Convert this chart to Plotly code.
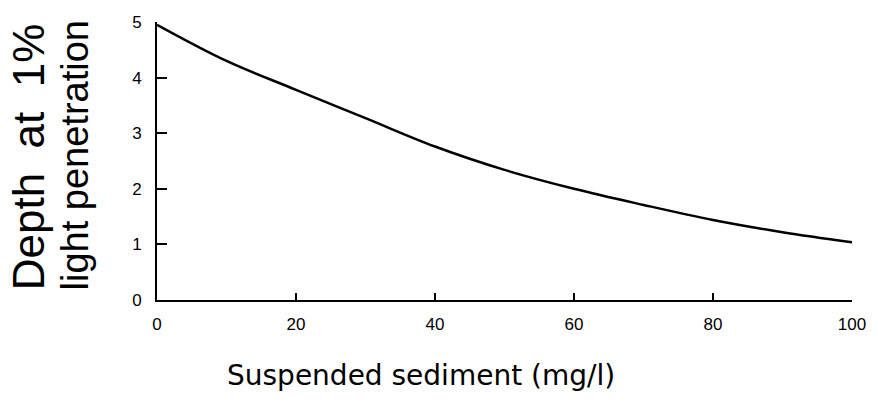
import plotly.graph_objects as go

# Data
sediment = [0, 10, 20, 30, 40, 50, 60, 70, 80, 90, 100]
depth = [4.95, 4.30, 3.78, 3.27, 2.76, 2.34, 2.00, 1.71, 1.44, 1.22, 1.04]

x_ticks = [0, 20, 40, 60, 80, 100]
y_ticks = [0, 1, 2, 3, 4, 5]

x_title = "Suspended sediment (mg/l)"
y_title_1 = "Depth\u00a0\u00a0at\u00a0\u00a01%"
y_title_2 = "light penetration"

fig = go.Figure()
fig.add_trace(go.Scatter(
    x=sediment, y=depth, mode="lines",
    line=dict(color="black", width=2.5, shape="spline"),
    hoverinfo="skip", showlegend=False,
))

axis_common = dict(
    showgrid=False, zeroline=False, showline=True, linecolor="black", linewidth=2,
    ticks="inside", tickcolor="black", tickwidth=2,
    tickfont=dict(family="Liberation Sans, Arial, sans-serif", size=17, color="black"),
)

fig.update_xaxes(range=[0, 100], tickvals=x_ticks, ticklen=7, ticklabelstandoff=8, **axis_common)
fig.update_yaxes(range=[0, 5], tickvals=y_ticks, ticklen=10, ticklabelstandoff=10, **axis_common)

fig.add_annotation(text=y_title_1, xref="paper", yref="paper", x=-0.185, y=0.515,
                   xanchor="center", yanchor="middle", textangle=-90, showarrow=False,
                   font=dict(family="Liberation Sans, Arial, sans-serif", size=44, color="black"))
fig.add_annotation(text=y_title_2, xref="paper", yref="paper", x=-0.118, y=0.52,
                   xanchor="center", yanchor="middle", textangle=-90, showarrow=False,
                   font=dict(family="Liberation Sans, Arial, sans-serif", size=38, color="black"))
fig.add_annotation(text=x_title, xref="paper", yref="paper", x=0.38, y=-0.27,
                   xanchor="center", yanchor="middle", showarrow=False,
                   font=dict(family="DejaVu Sans, sans-serif", size=28, color="black"))

fig.update_layout(
    width=878, height=414,
    margin=dict(l=157, r=23, t=22, b=114),
    paper_bgcolor="white", plot_bgcolor="white",
)

fig.write_html("out.html")
